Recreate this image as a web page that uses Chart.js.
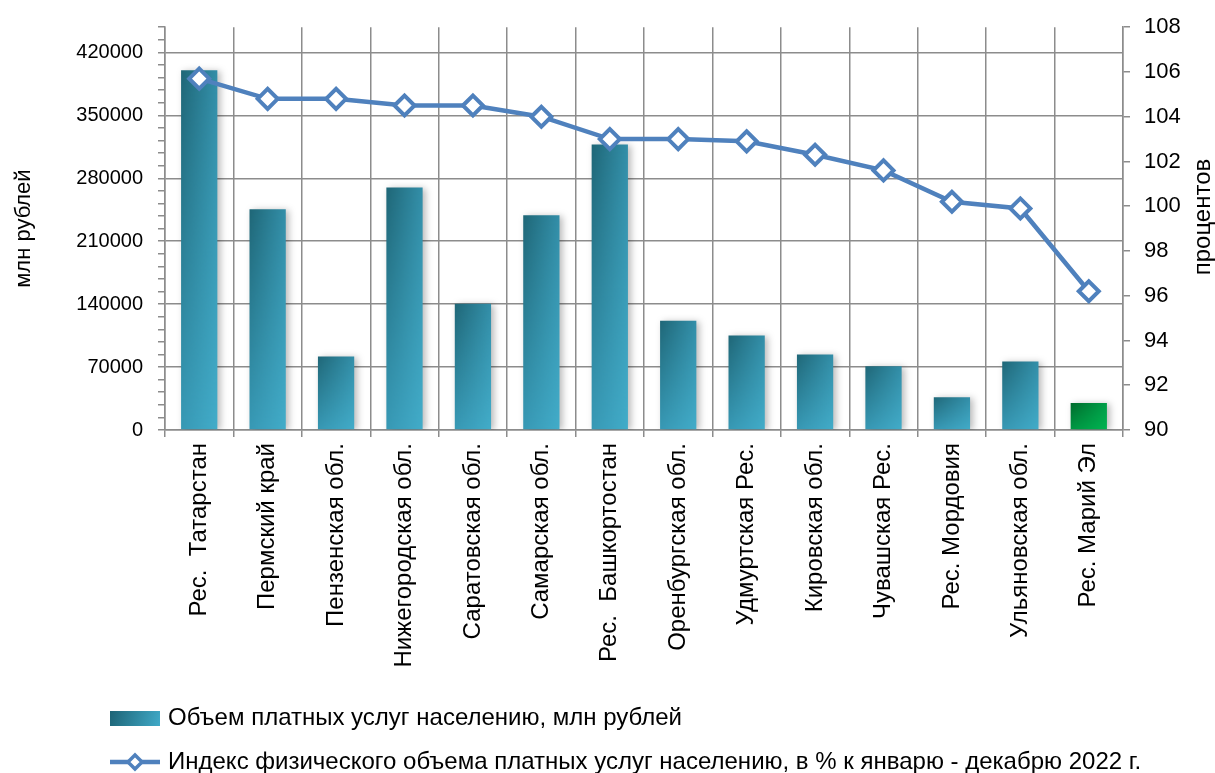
<!DOCTYPE html>
<html>
<head>
<meta charset="utf-8">
<script src="https://cdn.jsdelivr.net/npm/chart.js@4.4.0/dist/chart.umd.min.js"></script>
<style>
  html, body { margin: 0; padding: 0; background: #fff; }
  #wrap { width: 1215px; height: 773px; }
</style>
</head>
<body>
<div id="wrap"><canvas id="chart"></canvas></div>
<script>
// данные
const regions = [
  'Рес.  Татарстан', 'Пермский край', 'Пензенская обл.', 'Нижегородская обл.',
  'Саратовская обл.', 'Самарская обл.', 'Рес.  Башкортостан', 'Оренбургская обл.',
  'Удмуртская Рес.', 'Кировская обл.', 'Чувашская Рес.', 'Рес. Мордовия',
  'Ульяновская обл.', 'Рес. Марий Эл'
];
const volumeMln = [400000, 245500, 81800, 269800, 140400, 238900, 317400, 121600, 105000, 84000, 70800, 36500, 76300, 29900];
const indexPct = [105.7, 104.8, 104.8, 104.5, 104.5, 104.0, 103.0, 103.0, 102.9, 102.3, 101.6, 100.2, 99.9, 96.2];
const seriesNames = [
  'Объем платных услуг населению, млн рублей',
  'Индекс физического объема платных услуг населению, в % к январю - декабрю 2022 г.'
];
const axisTitles = ['млн рублей', 'процентов'];
const highlightRegion = 'Рес. Марий Эл';
const leftAxis = { min: 0, max: 448000, step: 14000, major: 70000 };
const rightAxis = { min: 90, max: 108, step: 2 };

const GRID = '#8c8c8c';
const LINE = '#4f81bd';
const FAMILY = '"Liberation Sans", Arial, sans-serif';
const TEAL = { tl: '#1f6676', tr: '#3490aa', bl: '#3899b5', br: '#43adca' };
const GREEN = { tl: '#00682b', tr: '#00a04a', bl: '#009a45', br: '#00b552' };

// заливка столбца: градиент по четырём углам
function cornerPattern(chart, c, left, top, w, h) {
  w = Math.max(1, Math.round(w)); h = Math.max(1, Math.round(h));
  const a = document.createElement('canvas');
  a.width = w; a.height = h;
  const ac = a.getContext('2d');
  let g = ac.createLinearGradient(0, 0, w, 0);
  g.addColorStop(0, c.tl); g.addColorStop(1, c.tr);
  ac.fillStyle = g; ac.fillRect(0, 0, w, h);

  const b = document.createElement('canvas');
  b.width = w; b.height = h;
  const bc = b.getContext('2d');
  g = bc.createLinearGradient(0, 0, w, 0);
  g.addColorStop(0, c.bl); g.addColorStop(1, c.br);
  bc.fillStyle = g; bc.fillRect(0, 0, w, h);
  bc.globalCompositeOperation = 'destination-in';
  g = bc.createLinearGradient(0, 0, 0, h);
  g.addColorStop(0, 'rgba(0,0,0,0)'); g.addColorStop(1, 'rgba(0,0,0,1)');
  bc.fillStyle = g; bc.fillRect(0, 0, w, h);
  ac.drawImage(b, 0, 0);

  const p = chart.ctx.createPattern(a, 'repeat');
  p.setTransform(new DOMMatrix().translateSelf(left, top));
  return p;
}

function barFill(ctx) {
  const chart = ctx.chart;
  const isGreen = regions[ctx.dataIndex] === highlightRegion;
  if (ctx.type !== 'data' || !chart.chartArea || !chart.scales.x) return isGreen ? '#00a04a' : '#2e8ba3';
  const xs = chart.scales.x, ys = chart.scales.y;
  const cx = xs.getPixelForValue(ctx.dataIndex);
  const half = (xs.width / regions.length) * 0.53 / 2;
  const top = ys.getPixelForValue(volumeMln[ctx.dataIndex]);
  const bottom = ys.getPixelForValue(0);
  return cornerPattern(chart, isGreen ? GREEN : TEAL, cx - half - 1, top - 1, 2 * half + 2, bottom - top + 2);
}

// тень у столбцов
const barShadow = {
  id: 'barShadow',
  beforeDatasetDraw(chart, args) {
    if (args.meta.type !== 'bar') return;
    const c = chart.ctx;
    c.save();
    c.shadowColor = 'rgba(0,0,0,0.28)';
    c.shadowBlur = 7;
    c.shadowOffsetX = 3;
    c.shadowOffsetY = 1;
  },
  afterDatasetDraw(chart, args) {
    if (args.meta.type !== 'bar') return;
    chart.ctx.restore();
  }
};

// легенда: сдвиг, свои значки, правая подпись оси
const legendTweak = {
  id: 'legendTweak',
  afterLayout(chart) {
    const L = chart.legend;
    L.left += 90; L.right += 90;
    L.top += 11; L.bottom += 11;
  },
  afterDraw(chart) {
    const c = chart.ctx;
    c.save();
    // подпись правой оси, снизу вверх
    c.font = '24px ' + FAMILY;
    c.fillStyle = '#000';
    c.textAlign = 'center';
    c.textBaseline = 'middle';
    c.translate(1203, 217);
    c.rotate(-Math.PI / 2);
    c.fillText(axisTitles[1], 0, 0);
    c.restore();

    const boxes = chart.legend.legendHitBoxes;
    if (!boxes || boxes.length < 2) return;
    c.save();
    let b = boxes[0];
    let cy = b.top + b.height / 2;
    let g = c.createLinearGradient(b.left, cy - 7, b.left + 50, cy + 7);
    g.addColorStop(0, '#1d6476');
    g.addColorStop(1, '#40a9c7');
    c.fillStyle = g;
    c.fillRect(b.left, cy - 7, 50, 15);

    b = boxes[1];
    cy = b.top + b.height / 2;
    c.strokeStyle = LINE;
    c.lineWidth = 4.5;
    c.beginPath();
    c.moveTo(b.left, cy);
    c.lineTo(b.left + 50, cy);
    c.stroke();
    const mx = b.left + 25, r = 7;
    c.beginPath();
    c.moveTo(mx, cy - r); c.lineTo(mx + r, cy); c.lineTo(mx, cy + r); c.lineTo(mx - r, cy); c.closePath();
    c.fillStyle = '#fff';
    c.fill();
    c.lineWidth = 3.5;
    c.stroke();
    c.restore();
  }
};

const ctx = document.getElementById('chart').getContext('2d');
new Chart(ctx, {
  data: {
    labels: regions,
    datasets: [
      {
        type: 'bar',
        label: seriesNames[0],
        data: volumeMln,
        yAxisID: 'y',
        backgroundColor: barFill,
        barPercentage: 0.53,
        categoryPercentage: 1,
        order: 1
      },
      {
        type: 'line',
        label: seriesNames[1],
        data: indexPct,
        yAxisID: 'y1',
        borderColor: LINE,
        borderWidth: 4.5,
        tension: 0,
        pointStyle: 'rectRot',
        pointRadius: 10,
        pointBorderWidth: 4,
        pointBackgroundColor: '#fff',
        pointBorderColor: LINE,
        order: 0
      }
    ]
  },
  options: {
    responsive: true,
    maintainAspectRatio: false,
    animation: false,
    layout: { padding: { top: 23, left: 0, right: 0, bottom: 0 } },
    plugins: {
      tooltip: { enabled: false },
      legend: {
        position: 'bottom',
        align: 'start',
        labels: {
          font: { family: FAMILY, size: 24 },
          color: '#000',
          boxWidth: 46,
          boxHeight: 15,
          padding: 20,
          sort: (a, b) => a.datasetIndex - b.datasetIndex,
          generateLabels: (chart) => {
            const items = Chart.defaults.plugins.legend.labels.generateLabels(chart);
            items.forEach(it => {
              it.fillStyle = 'rgba(0,0,0,0)';
              it.strokeStyle = 'rgba(0,0,0,0)';
              it.lineWidth = 0;
            });
            return items;
          }
        }
      }
    },
    scales: {
      x: {
        type: 'category',
        afterFit: (s) => { s.height = 245; },
        grid: { offset: true, color: GRID, lineWidth: 1.5, tickLength: 7, tickColor: GRID },
        border: { color: GRID, width: 1.5 },
        ticks: {
          font: { family: FAMILY, size: 24 }, color: '#000',
          autoSkip: false, maxRotation: 90, minRotation: 90, padding: 6
        }
      },
      y: {
        position: 'left',
        min: leftAxis.min,
        max: leftAxis.max,
        afterFit: (s) => { s.width = 165; },
        title: { display: true, text: axisTitles[0], font: { family: FAMILY, size: 22 }, color: '#000', padding: { top: 11, bottom: 0 } },
        border: { color: GRID, width: 1.5 },
        grid: {
          color: (c) => (c.tick && c.tick.value % leftAxis.major === 0) ? GRID : 'rgba(0,0,0,0)',
          tickColor: GRID,
          lineWidth: 1.5,
          tickLength: 7
        },
        ticks: {
          stepSize: leftAxis.step,
          autoSkip: false,
          maxTicksLimit: 100,
          font: { family: FAMILY, size: 20 }, color: '#000', padding: 15,
          callback: (v) => v % leftAxis.major === 0 ? String(v) : ''
        }
      },
      y1: {
        position: 'right',
        min: rightAxis.min,
        max: rightAxis.max,
        afterFit: (s) => { s.width = 92; },
        border: { color: GRID, width: 1.5 },
        grid: { drawOnChartArea: false, tickColor: GRID, lineWidth: 1.5, tickLength: 7 },
        ticks: { stepSize: rightAxis.step, font: { family: FAMILY, size: 22 }, color: '#000', padding: 14 }
      }
    }
  },
  plugins: [barShadow, legendTweak]
});
</script>
</body>
</html>
